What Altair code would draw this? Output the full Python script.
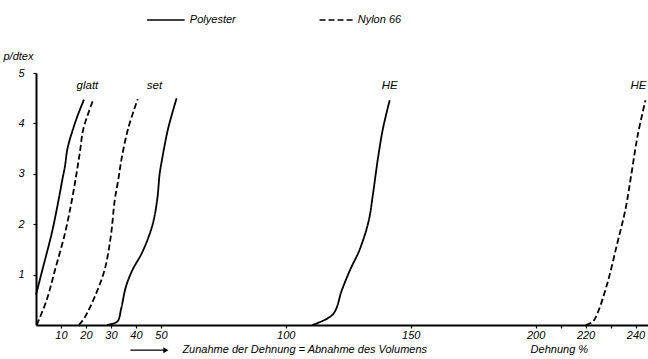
import altair as alt
import pandas as pd

# ---- curve data (Dehnung %, p/dtex) ----
pe_glatt_x = [0.0, 2.9, 6.3, 9.0, 10.6, 11.6, 12.6, 14.9, 17.0, 19.2]
pe_glatt_y = [0.6, 1.16, 1.82, 2.47, 2.9, 3.15, 3.5, 3.9, 4.2, 4.47]

ny_glatt_x = [0.3, 4.3, 7.6, 11.6, 14.3, 16.2, 17.6, 19.0, 23.0]
ny_glatt_y = [0.0, 0.5, 1.09, 1.82, 2.46, 3.0, 3.44, 3.9, 4.48]

ny_set_x = [17.2, 19.5, 23.5, 27.5, 30.0, 31.5, 33.0, 34.3, 36.9, 40.7]
ny_set_y = [0.0, 0.15, 0.56, 1.1, 1.78, 2.47, 2.9, 3.31, 3.9, 4.48]

pe_set_x = [28.5, 32.6, 34.0, 36.0, 38.6, 42.6, 46.6, 48.5, 49.5, 50.3, 52.9, 56.3]
pe_set_y = [0.0, 0.07, 0.3, 0.76, 1.09, 1.45, 1.98, 2.48, 3.0, 3.24, 3.9, 4.5]

pe_he_x = [110.5, 112.3, 119.0, 122.5, 125.8, 129.6, 133.2, 134.9, 136.9, 138.9, 141.6]
pe_he_y = [0.0, 0.03, 0.22, 0.7, 1.1, 1.5, 2.07, 2.6, 3.31, 3.9, 4.46]

ny_he_x = [220.0, 223.0, 225.0, 228.8, 232.6, 236.0, 238.3, 240.9, 244.0]
ny_he_y = [0.0, 0.07, 0.26, 0.84, 1.6, 2.3, 2.98, 3.77, 4.46]

curves = [
    ("pe_glatt", "Polyester", pe_glatt_x, pe_glatt_y),
    ("ny_glatt", "Nylon 66", ny_glatt_x, ny_glatt_y),
    ("ny_set", "Nylon 66", ny_set_x, ny_set_y),
    ("pe_set", "Polyester", pe_set_x, pe_set_y),
    ("pe_he", "Polyester", pe_he_x, pe_he_y),
    ("ny_he", "Nylon 66", ny_he_x, ny_he_y),
]

# curve labels
curve_labels = ["glatt", "set", "HE", "HE"]
curve_label_x = [20.6, 47.4, 141.6, 241.2]
curve_label_y = [4.65, 4.65, 4.65, 4.65]

# legend
legend_names = ["Polyester", "Nylon 66"]
legend_x1 = [44.5, 113.5]
legend_x2 = [59.5, 127.5]
legend_tx = [61.6, 128.8]
legend_y = [6.05, 6.05]

x_ticks = [10, 20, 30, 40, 50, 100, 150, 200, 210, 220, 230, 240]
y_ticks = [1, 2, 3, 4, 5]

rows = []
for cid, mat, xs, ys in curves:
    for i, (xv, yv) in enumerate(zip(xs, ys)):
        rows.append({"curve": cid, "material": mat, "x": xv, "y": yv, "i": i})
df = pd.DataFrame(rows)

FONT = "Liberation Sans"
xs_ = alt.Scale(domain=[0, 245], nice=False, zero=False)
ys_ = alt.Scale(domain=[0, 5], nice=False, zero=False)
dash_scale = alt.Scale(domain=["Polyester", "Nylon 66"], range=[[1, 0], [6, 3]])

lines = alt.Chart(df).mark_line(color="black", strokeWidth=1.8, interpolate="catmull-rom").encode(
    x=alt.X("x:Q", scale=xs_, axis=alt.Axis(
        values=x_ticks, title=None, grid=False,
        labelExpr="(datum.value == 210 || datum.value == 230) ? '' : datum.label",
        domainColor="black", domainWidth=2, tickColor="black", tickSize=3, tickWidth=1.2,
        labelFont=FONT, labelFontStyle="italic", labelFontSize=11, labelColor="black",
        labelPadding=1, labelFlush=False)),
    y=alt.Y("y:Q", scale=ys_, axis=alt.Axis(
        values=y_ticks, title="p/dtex", grid=False, titleAngle=0, titleAlign="left",
        titleX=-33, titleY=-12, titleFont=FONT, titleFontStyle="italic", titleFontSize=11,
        titleFontWeight="normal", titleColor="black",
        domainColor="black", domainWidth=2, tickColor="black", tickSize=3, tickWidth=1.2,
        labelFont=FONT, labelFontStyle="italic", labelFontSize=11, labelColor="black",
        labelPadding=9)),
    detail="curve:N",
    strokeDash=alt.StrokeDash("material:N", scale=dash_scale, legend=None),
    order="i:Q",
)

lab_df = pd.DataFrame({"t": curve_labels, "x": curve_label_x, "y": curve_label_y})
labels = alt.Chart(lab_df).mark_text(font=FONT, fontStyle="italic", fontSize=11.5,
                                      color="black", align="center", baseline="bottom").encode(
    x=alt.X("x:Q", scale=xs_), y=alt.Y("y:Q", scale=ys_), text="t:N")

leg_df = pd.DataFrame({"m": legend_names, "x1": legend_x1, "x2": legend_x2,
                       "tx": legend_tx, "y": legend_y})
leg_lines = alt.Chart(leg_df).mark_rule(color="black", strokeWidth=1.5).encode(
    x=alt.X("x1:Q", scale=xs_), x2="x2:Q", y=alt.Y("y:Q", scale=ys_),
    strokeDash=alt.StrokeDash("m:N", scale=dash_scale, legend=None))
leg_text = alt.Chart(leg_df).mark_text(font=FONT, fontStyle="italic", fontSize=11,
                                        color="black", align="left", baseline="middle").encode(
    x=alt.X("tx:Q", scale=xs_), y=alt.Y("y:Q", scale=ys_), text="m:N")

# bottom annotations
note_df = pd.DataFrame({"t": ["Zunahme der Dehnung = Abnahme des Volumens", "Dehnung %"],
                        "x": [58.6, 198.0], "y": [-0.5, -0.5]})
notes = alt.Chart(note_df).mark_text(font=FONT, fontStyle="italic", fontSize=11,
                                      color="black", align="left", baseline="middle").encode(
    x=alt.X("x:Q", scale=xs_), y=alt.Y("y:Q", scale=ys_), text="t:N")

arrow_df = pd.DataFrame({"x1": [37.8], "x2": [52.0], "y": [-0.5]})
arrow_line = alt.Chart(arrow_df).mark_rule(color="black", strokeWidth=1.2).encode(
    x=alt.X("x1:Q", scale=xs_), x2="x2:Q", y=alt.Y("y:Q", scale=ys_))
arrow_head = alt.Chart(arrow_df).mark_point(shape="triangle-right", filled=True, color="black",
                                             size=35, opacity=1).encode(
    x=alt.X("x2:Q", scale=xs_), y=alt.Y("y:Q", scale=ys_))

chart = alt.layer(lines, labels, leg_lines, leg_text, notes, arrow_line, arrow_head).properties(
    width=612, height=252,
    padding={"left": 36, "top": 73, "right": 0, "bottom": 34},
    autosize=alt.AutoSizeParams(type="none"),
    background="white",
).configure_view(stroke=None)

chart.save("out.html", embed_options={"renderer": "svg", "actions": False})
